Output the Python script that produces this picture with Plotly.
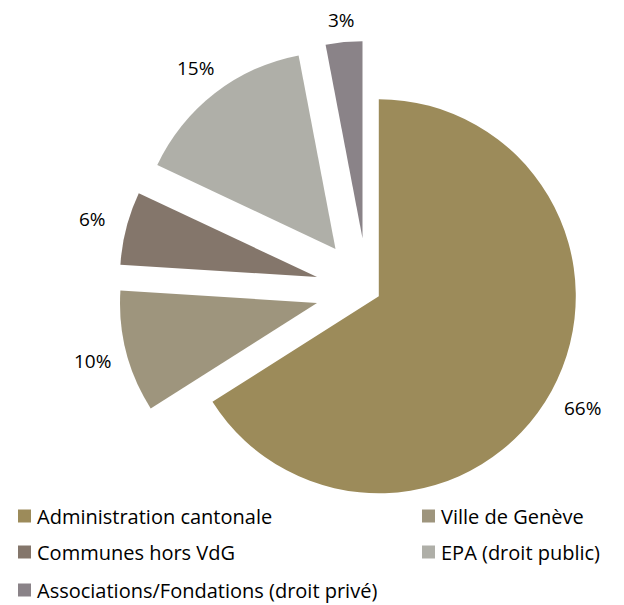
import math
import plotly.graph_objects as go

# Data
categories = [
    "Administration cantonale",
    "Ville de Genève",
    "Communes hors VdG",
    "EPA (droit public)",
    "Associations/Fondations (droit privé)",
]
shares = [66, 10, 6, 15, 3]

# Styling
colors = ["#9C8B5A", "#9E957D", "#84766B", "#AFAFA8", "#8A8388"]
pulls = [0.066, 0.264, 0.264, 0.264, 0.264]
FONT = "Open Sans"
W, H = 624, 605

# Pie box in pixels (centre and radius), then converted to paper domain
cx, cy, r = 367.4, 290.0, 197.0
half = r * (1 + max(pulls))
dom_x = [(cx - half) / W, (cx + half) / W]
dom_y = [1 - (cy + half) / H, 1 - (cy - half) / H]

fig = go.Figure(
    go.Pie(
        labels=categories,
        values=shares,
        sort=False,
        direction="clockwise",
        rotation=0,
        pull=pulls,
        marker=dict(colors=colors, line=dict(width=0)),
        textinfo="none",
        hoverinfo="label+percent",
        domain=dict(x=dom_x, y=dom_y),
        showlegend=False,
    )
)

# Percentage labels placed outside each slice, along its bisector
annotations = []
total = sum(shares)
start = 0.0
for val, pull in zip(shares, pulls):
    span = 360.0 * val / total
    mid = math.radians(start + span / 2)
    start += span
    sx, sy = math.sin(mid), -math.cos(mid)
    ox, oy = cx + pull * r * sx, cy + pull * r * sy
    dist = r + 12 + 22 * abs(sx) + 8 * abs(sy)
    lx, ly = ox + dist * sx, oy + dist * sy
    annotations.append(
        dict(
            x=lx / W, y=1 - ly / H, xref="paper", yref="paper",
            text=f"{round(100 * val / total)}%", showarrow=False,
            xanchor="center", yanchor="middle",
            font=dict(family=FONT, size=19, color="#000000"),
        )
    )

# Two-column legend drawn with swatches and text
shapes = []
legend_slots = [(18, 516), (422, 516), (18, 552), (422, 552), (18, 590)]
sw = 13
for (lx, ly), name, col in zip(legend_slots, categories, colors):
    shapes.append(
        dict(
            type="rect", xref="paper", yref="paper",
            x0=lx / W, x1=(lx + sw) / W,
            y0=1 - (ly + sw / 2) / H, y1=1 - (ly - sw / 2) / H,
            fillcolor=col, line=dict(width=0),
        )
    )
    annotations.append(
        dict(
            x=(lx + sw + 4) / W, y=1 - ly / H, xref="paper", yref="paper",
            text=name, showarrow=False, xanchor="left", yanchor="middle",
            font=dict(family=FONT, size=20, color="#000000"),
        )
    )

fig.update_layout(
    width=W,
    height=H,
    margin=dict(l=0, r=0, t=0, b=0),
    paper_bgcolor="white",
    plot_bgcolor="white",
    annotations=annotations,
    shapes=shapes,
)

fig.write_html("out.html")
